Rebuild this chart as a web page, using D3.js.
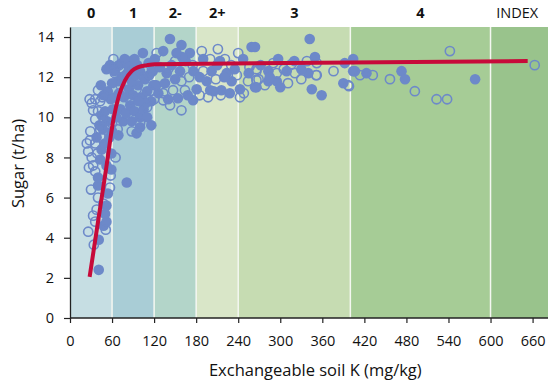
<!DOCTYPE html>
<html>
<head>
<meta charset="utf-8">
<script src="https://cdn.jsdelivr.net/npm/d3@7"></script>
<style>
  body { margin: 0; background: #fff; }
  svg { display: block; font-family: "Open Sans", "Noto Sans", sans-serif; }
</style>
</head>
<body>
<figure id="chart" style="margin:0"></figure>
<script>
// soil K index bands (mg/kg)
const bandLabels = ['0', '1', '2-', '2+', '3', '4', 'INDEX'];
const bandStarts = [0, 60, 120, 180, 240, 400, 600];
const bandEnds = [60, 120, 180, 240, 400, 600, 682];
const bandColors = ['#c6dee3', '#a9cdd6', '#b3d5c9', '#d9e6c8', '#c6dcb2', '#a6cc96', '#99c38c'];

const xTicks = [0, 60, 120, 180, 240, 300, 360, 420, 480, 540, 600, 660];
const yTicks = [0, 2, 4, 6, 8, 10, 12, 14];

// [K, sugar]
const filledPoints = [
  [41, 2.4], [41, 3.9], [48, 4.6], [52, 4.8], [50, 5.2], [52, 5.6], [54, 6.2], [40, 6.6], [40, 7.0],
  [52, 7.6], [59, 7.4], [43, 7.9], [45, 8.4], [50, 8.7], [59, 8.2], [56, 9.0], [60, 9.3], [47, 9.4],
  [53, 9.8], [42, 9.6], [38, 9.0], [45, 10.1], [50, 10.3], [54, 11.3], [61, 10.4], [58, 10.9], [44, 11.6],
  [48, 11.1], [57, 12.6], [52, 12.4], [81, 6.75],
  [69, 9.1], [76, 9.8], [88, 9.8], [95, 9.2], [66, 10.0], [72, 10.4], [80, 10.2], [86, 10.6], [92, 10.3],
  [100, 10.0], [105, 10.4], [64, 11.0], [70, 11.2], [77, 11.0], [84, 11.4], [90, 11.1], [97, 11.6],
  [103, 11.0], [110, 11.3], [116, 10.8], [68, 11.8], [74, 12.0], [82, 12.2], [88, 11.8], [94, 12.1],
  [100, 12.3], [107, 11.9], [113, 12.1], [119, 11.6], [66, 12.5], [74, 12.7], [88, 12.8], [96, 12.6],
  [104, 13.2], [112, 12.7], [118, 12.3], [123, 11.6], [110, 10.0], [116, 9.6], [100, 9.5], [108, 10.7],
  [60, 11.7], [78, 12.9], [84, 12.5], [92, 12.9], [63, 12.3], [121, 12.9], [126, 11.2], [98, 10.8],
  [133, 13.3], [142.6, 13.9], [159, 13.6], [171, 13.2], [190, 12.9], [247, 12.9], [259, 13.5], [138, 12.2],
  [157, 12.3], [176, 12.3], [202, 12.3], [223.5, 12.2], [230.6, 11.8], [264, 11.5], [135.5, 11.7],
  [180.7, 11.4], [200, 11.35], [216, 11.35], [242.5, 11.4], [175.6, 10.85], [154, 10.95], [121, 11.6],
  [145, 12.6], [165, 12.8], [150, 11.9], [185, 12.0], [195, 11.8], [210, 12.6], [220, 12.0], [235, 12.4],
  [128, 12.5], [140, 10.9], [168, 11.1], [205, 11.3], [228, 11.2], [214, 12.8], [160, 13.0], [152, 13.2],
  [264, 13.5], [297, 12.9], [349.5, 13.0], [392, 12.7], [404, 12.9], [404, 12.3], [283, 12.3], [309, 12.3],
  [340, 12.2], [283, 11.8], [295, 11.8], [266, 11.5], [345, 11.4], [359, 11.1], [390, 11.7], [342, 13.9],
  [285, 12.0], [272, 12.6], [320, 12.8], [330, 12.4], [255, 12.2], [300, 11.5],
  [406.5, 12.3], [423, 12.2], [473, 12.3], [478, 11.9], [578, 11.9]
];

const openPoints = [
  [26, 4.3], [34, 3.65], [51, 4.4], [36, 4.8], [33, 5.1], [47.5, 5.7], [40, 6.0], [57, 6.5], [36, 7.3],
  [33, 7.6], [31, 8.0], [36, 8.7], [28.5, 8.85], [43, 9.4], [36, 9.9], [33, 10.35], [43, 10.8], [36, 10.9],
  [40, 11.35], [28, 10.9], [31, 10.7], [26, 8.3], [29, 9.3], [27, 7.5], [38, 5.4], [30, 6.4], [44, 9.0],
  [48, 9.9], [39, 8.2], [24, 8.7], [46, 11.0], [40, 10.3],
  [64, 12.2], [62, 12.9], [70, 12.6], [80, 12.1], [95, 11.4], [85, 10.9], [110, 10.5], [100, 9.7], [68, 9.4],
  [90, 12.4], [105, 12.0], [115, 11.3], [117, 12.4], [72, 11.6], [123.6, 13.2], [58, 7.1], [65, 8.0],
  [60, 9.7], [88, 9.3], [120, 10.9],
  [188, 13.3], [211, 13.4], [240, 13.2], [221, 12.9], [190, 12.3], [266, 12.4], [254, 11.8], [159, 11.8],
  [147, 11.35], [164, 11.35], [197, 11.0], [133, 11.2], [142.7, 10.6], [159, 10.35], [133, 10.85],
  [242.5, 11.0], [175, 12.6], [200, 12.9], [230, 12.6], [150, 12.8], [208, 11.9], [170, 12.0], [238, 12.1],
  [140, 12.4], [185, 11.1], [215, 11.1],
  [266, 11.85], [316, 12.65], [338, 12.8], [352, 12.7], [266, 12.3], [295, 12.2], [321, 12.2], [352, 12.1],
  [269, 11.9], [278, 11.6], [311, 11.7], [397, 11.6], [351, 12.1], [290, 12.7], [256, 12.5], [305, 12.4],
  [376, 12.3], [248, 11.2], [330, 11.9],
  [413.7, 12.1], [432, 12.1], [456.5, 11.9], [492, 11.3], [523, 10.9], [538, 10.9], [542, 13.3], [663, 12.6],
  [398, 11.55]
];

// fitted response curve
const curveK = [28, 40, 52, 62, 70, 78.5, 88, 97.5, 110, 121, 653];
const curveSugar = [2.05, 4.8, 7.55, 9.9, 11.1, 11.84, 12.3, 12.5, 12.6, 12.65, 12.8];

const width = 557, height = 383;
const margin = { top: 27, right: 9, bottom: 65, left: 70 };

const x = d3.scaleLinear().domain([0, 682]).range([margin.left, width - margin.right]);
const y = d3.scaleLinear().domain([0, 14.5]).range([height - margin.bottom, margin.top]);

const svg = d3.select('#chart').append('svg')
  .attr('width', width)
  .attr('height', height);

const bands = bandLabels.map((label, i) => ({ label, start: bandStarts[i], end: bandEnds[i], color: bandColors[i] }));

svg.append('g').selectAll('rect')
  .data(bands)
  .enter()
  .append('rect')
  .attr('x', d => x(d.start))
  .attr('y', y(14.5))
  .attr('width', d => x(d.end) - x(d.start))
  .attr('height', y(0) - y(14.5))
  .attr('fill', d => d.color);

// white separators between bands
svg.append('g').selectAll('line')
  .data(bands.slice(1))
  .enter()
  .append('line')
  .attr('x1', d => x(d.start))
  .attr('x2', d => x(d.start))
  .attr('y1', y(14.5))
  .attr('y2', y(0))
  .attr('stroke', '#f4f7f1')
  .attr('stroke-width', 1.5);

svg.append('g').selectAll('text')
  .data(bands)
  .enter()
  .append('text')
  .attr('x', d => d.label === 'INDEX' ? x(d.start) + (x(d.end) - x(d.start)) / 2 - 2 : x((d.start + d.end) / 2))
  .attr('y', 17.5)
  .attr('text-anchor', 'middle')
  .style('font-size', '14.5px')
  .style('font-weight', d => d.label === 'INDEX' ? 'normal' : 'bold')
  .style('fill', '#111')
  .text(d => d.label);

const pointColor = '#6d89c9';

svg.append('g').selectAll('circle')
  .data(filledPoints)
  .enter()
  .append('circle')
  .attr('cx', d => x(d[0]))
  .attr('cy', d => y(d[1]))
  .attr('r', 5.3)
  .attr('fill', pointColor);

svg.append('g').selectAll('circle')
  .data(openPoints)
  .enter()
  .append('circle')
  .attr('cx', d => x(d[0]))
  .attr('cy', d => y(d[1]))
  .attr('r', 4.6)
  .attr('fill', 'none')
  .attr('stroke', pointColor)
  .attr('stroke-width', 1.6);

const line = d3.line()
  .x(d => x(d[0]))
  .y(d => y(d[1]))
  .curve(d3.curveMonotoneX);

svg.append('path')
  .datum(curveK.map((k, i) => [k, curveSugar[i]]))
  .attr('d', line)
  .attr('fill', 'none')
  .attr('stroke', '#c70a3a')
  .attr('stroke-width', 4);

const xAxis = svg.append('g')
  .attr('transform', `translate(0,${y(0)})`)
  .call(d3.axisBottom(x).tickValues(xTicks).tickSize(5).tickPadding(13).tickSizeOuter(0));

const yAxis = svg.append('g')
  .attr('transform', `translate(${margin.left},0)`)
  .call(d3.axisLeft(y).tickValues(yTicks).tickSize(6).tickPadding(10).tickSizeOuter(0));

[xAxis, yAxis].forEach(a => {
  a.select('.domain').attr('stroke', '#222').attr('stroke-width', 1.3);
  a.selectAll('.tick line').attr('stroke', '#222').attr('stroke-width', 1.2);
  a.selectAll('.tick text')
    .style('font-family', '"Open Sans", "Noto Sans", sans-serif')
    .style('font-size', '14.5px')
    .style('fill', '#111');
});

// extend x axis line to right edge of plot
xAxis.select('.domain').attr('d', `M${x(0)},0H${x(682)}`);

svg.append('text')
  .attr('x', x(350))
  .attr('y', 376)
  .attr('text-anchor', 'middle')
  .style('font-size', '16.5px')
  .style('fill', '#111')
  .text('Exchangeable soil K (mg/kg)');

svg.append('text')
  .attr('transform', `translate(24,${y(7.7)}) rotate(-90)`)
  .attr('text-anchor', 'middle')
  .style('font-size', '16.5px')
  .style('fill', '#111')
  .text('Sugar (t/ha)');
</script>
</body>
</html>
